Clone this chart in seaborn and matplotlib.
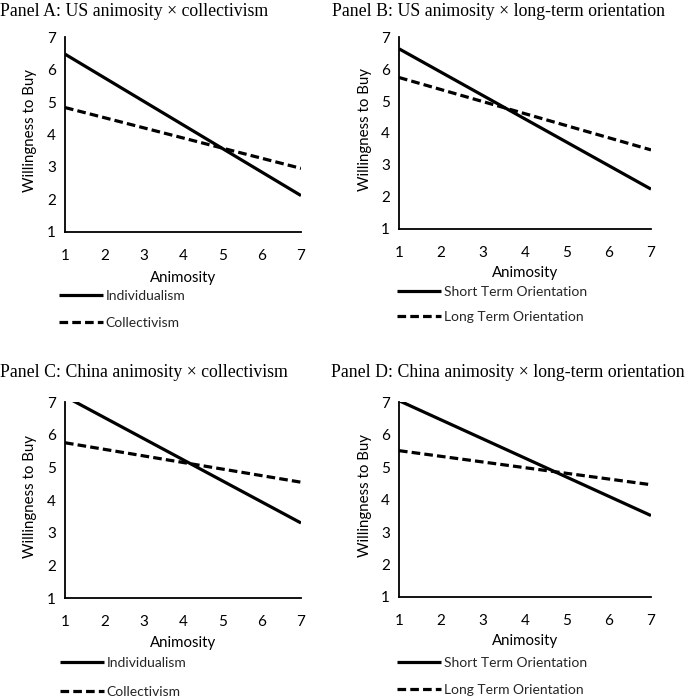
import matplotlib
matplotlib.use("Agg")
import matplotlib.pyplot as plt
import seaborn as sns
import pandas as pd

# ---- data ----
animosity = [1, 7]
panel_titles = [
    "Panel A: US animosity \u00d7 collectivism",
    "Panel B: US animosity \u00d7 long-term orientation",
    "Panel C: China animosity \u00d7 collectivism",
    "Panel D: China animosity \u00d7 long-term orientation",
]
labels_coll = ["Individualism", "Collectivism"]
labels_lto = ["Short Term Orientation", "Long Term Orientation"]

a_individualism = [6.48, 2.11]
a_collectivism = [4.83, 2.95]
b_short_term = [6.64, 2.24]
b_long_term = [5.74, 3.47]
c_individualism = [7.18, 3.30]
c_collectivism = [5.76, 4.55]
d_short_term = [7.05, 3.51]
d_long_term = [5.51, 4.46]

x_ticks = [1, 2, 3, 4, 5, 6, 7]
y_ticks = [1, 2, 3, 4, 5, 6, 7]
x_label = "Animosity"
y_label = "Willingness to Buy"

panels = [
    (panel_titles[0], labels_coll, a_individualism, a_collectivism),
    (panel_titles[1], labels_lto, b_short_term, b_long_term),
    (panel_titles[2], labels_coll, c_individualism, c_collectivism),
    (panel_titles[3], labels_lto, d_short_term, d_long_term),
]

# ---- style ----
sns.set_style("white")
plt.rcParams["font.family"] = ["Lato", "DejaVu Sans"]

W, H = 685, 700
fig = plt.figure(figsize=(W / 100, H / 100), dpi=100)

# axes boxes in pixels: (left, right, top, bottom)
boxes = [
    (65, 301, 37.3, 231.5),
    (399, 651, 37.3, 228.7),
    (65, 301, 402.3, 598),
    (399, 651, 402.3, 597),
]
title_pos = [(0, 12), (332, 12), (0, 373), (331, 373)]
legend_pos = [(59, 290), (397, 286), (60, 657), (397, 657)]
legend_spacing = [1.05, 0.95, 1.2, 1.1]
xlabel_y = [278, 273, 643, 641]

fs_tick = 11
fs_label = 10.8
fs_leg = 10
for i, (title, labs, s1, s2) in enumerate(panels):
    l, r, t, b = boxes[i]
    ax = fig.add_axes([l / W, 1 - b / H, (r - l) / W, (b - t) / H])
    df = pd.DataFrame({
        "Animosity": animosity * 2,
        "WTB": s1 + s2,
        "group": [labs[0]] * 2 + [labs[1]] * 2,
    })
    sns.lineplot(data=df, x="Animosity", y="WTB", style="group",
                 style_order=labs, dashes={labs[0]: "", labs[1]: (2.7, 1.3)},
                 color="black", linewidth=2.3, ax=ax, legend=False)
    ax.set_xlim(1, 7)
    ax.set_ylim(1, 7)
    ax.set_xticks(x_ticks)
    ax.set_yticks(y_ticks)
    for sp in ["top", "right"]:
        ax.spines[sp].set_visible(False)
    for sp in ["left", "bottom"]:
        ax.spines[sp].set_color("black")
        ax.spines[sp].set_linewidth(1.3)
        ax.spines[sp].set_clip_on(False)
    ax.tick_params(axis="both", direction="inout", length=7, width=1.3,
                   color="black", labelsize=fs_tick, labelcolor="black")
    ax.tick_params(axis="y", pad=3)
    ax.tick_params(axis="x", pad=9)
    ax.set_xlabel(x_label, fontsize=fs_label, color="black")
    ax.set_ylabel(y_label, fontsize=fs_label, color="black")
    hpx = b - t
    wpx = r - l
    ax.xaxis.set_label_coords(0.5, -(xlabel_y[i] - b) / hpx)
    ax.xaxis.label.set_va("center")
    yl_x = 30 if i % 2 == 0 else 365
    ax.yaxis.set_label_coords(-(l - yl_x) / wpx, 0.52)
    ax.yaxis.label.set_va("center")
    for ln in ax.get_lines():
        ln.set_solid_capstyle("butt")
        ln.set_dash_capstyle("butt")
    lines = ax.get_lines()[:2]
    lx, ly = legend_pos[i]
    ax.legend(lines, labs, loc="upper left",
              bbox_to_anchor=(lx / W, 1 - ly / H),
              bbox_transform=fig.transFigure, frameon=False,
              fontsize=fs_leg, handlelength=3.2, handletextpad=0.15,
              borderpad=0, borderaxespad=0,
              labelspacing=legend_spacing[i])
    tx, ty = title_pos[i]
    fig.text(tx / W, 1 - ty / H, title, family=["Liberation Serif", "DejaVu Serif"],
             fontsize=12.8, ha="left", va="center", color="black")

fig.savefig("out.png", dpi=100, facecolor="white")
